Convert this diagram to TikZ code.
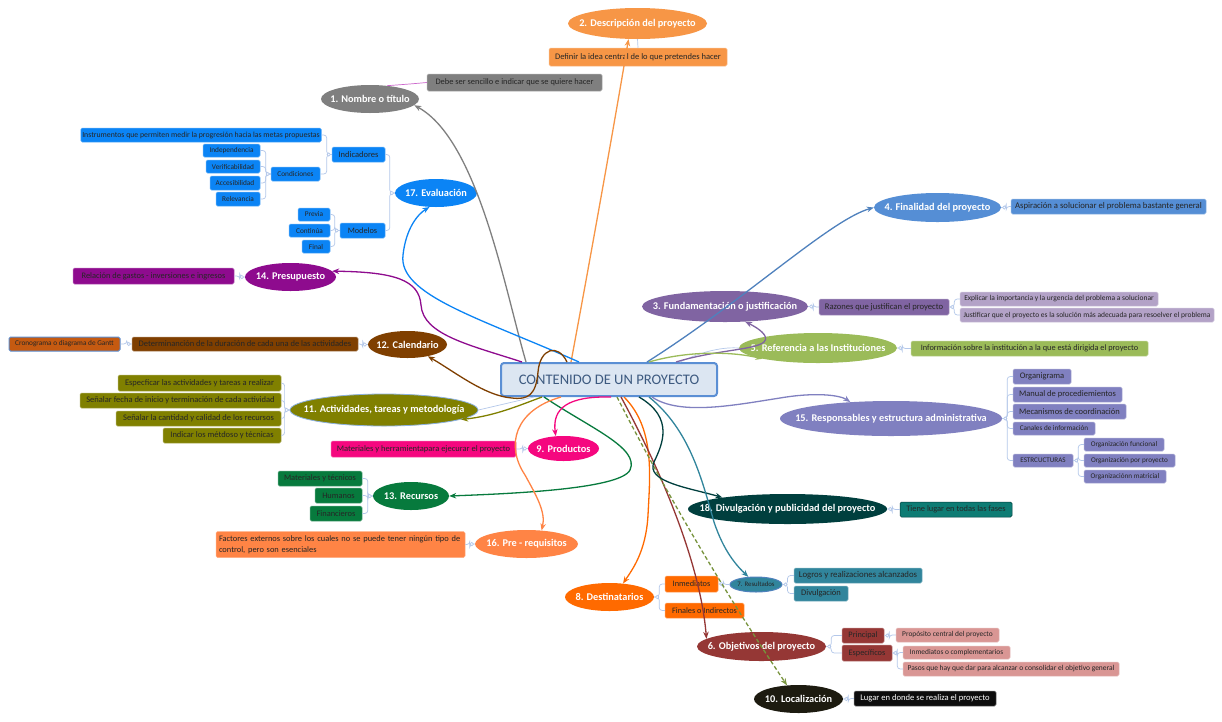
\documentclass[tikz,border=0pt]{standalone}
\usepackage{fontspec}
\setmainfont{Carlito}
\usetikzlibrary{arrows.meta,shapes.geometric}
\definecolor{cGray}{HTML}{7F7F7F}
\definecolor{cOrgA}{HTML}{F79646}
\definecolor{cPurA}{HTML}{8064A2}
\definecolor{cPurL}{HTML}{B3A2C7}
\definecolor{cBluA}{HTML}{558ED5}
\definecolor{cBluLine}{HTML}{4F81BD}
\definecolor{cGrnA}{HTML}{9BBB59}
\definecolor{cRed}{HTML}{953735}
\definecolor{cRedL}{HTML}{D99694}
\definecolor{cTeal}{HTML}{31859C}
\definecolor{cOrgB}{HTML}{FF6A00}
\definecolor{cPink}{HTML}{F5077F}
\definecolor{cBlack}{HTML}{1D1B10}
\definecolor{cBlkBox}{HTML}{0D0D0D}
\definecolor{cOlive}{HTML}{808000}
\definecolor{cBrown}{HTML}{7F3F00}
\definecolor{cCron}{HTML}{C55A11}
\definecolor{cGreen}{HTML}{077A3D}
\definecolor{cPurB}{HTML}{8E0B8E}
\definecolor{cLav}{HTML}{8080C0}
\definecolor{cCoral}{HTML}{FF8445}
\definecolor{cBluB}{HTML}{0B84F5}
\definecolor{cDTeal}{HTML}{003F3E}
\definecolor{cTealBox}{HTML}{0E7C74}
\definecolor{cDash}{HTML}{77933C}
\definecolor{cLink}{HTML}{B4C8EA}
\definecolor{cPinkThin}{HTML}{CC66CC}
\definecolor{cCtrB}{HTML}{5B8FD4}
\definecolor{cCtrF}{HTML}{DCE6F2}
\definecolor{cCtrT}{HTML}{3D5A80}
\newcommand\fsz[1]{\fontsize{#1}{#1}\selectfont}
\newcommand\EL[8][]{\node[ell,fill=#3,minimum width={#5-#4},minimum height={#7-#6},#1] (#2) at ({(#4+#5)/2},{(#6+#7)/2}) {\makebox[0pt]{#8}};}
\newcommand\BX[9][]{\node[bx,fill=#3,draw=#3!65!white,minimum width={#5-#4},minimum height={#7-#6},font=\fsz{#9},#1] (#2) at ({(#4+#5)/2},{(#6+#7)/2}) {#8};}
\newcommand\brL[2]{\draw[lk,rounded corners=3pt] (#1.west) -- ++(-5,0) |- (#2.east);}
\newcommand\brR[2]{\draw[lk,rounded corners=3pt] (#1.east) -- ++(5,0) |- (#2.west);}
\newcommand\mkL[1]{\draw[lk,fill=white] ([xshift=-3pt]#1.west) circle[radius=1.7pt];}
\newcommand\mkR[1]{\draw[lk,fill=white] ([xshift=3pt]#1.east) circle[radius=1.7pt];}
\begin{document}
\begin{tikzpicture}[x=1pt,y=-1pt,
  ell/.style={ellipse,inner sep=0pt,text=white,font=\fsz{10.3}\bfseries},
  bx/.style={rectangle,rounded corners=1.5pt,inner xsep=1.5pt,inner ysep=0pt,text=black!85,line width=0.5pt},
  lk/.style={draw=cLink,line width=0.7pt},
  cn/.style={line width=1.3pt,-{Stealth[length=7pt,width=5.5pt]}}]
\fill[white] (0,0) rectangle (1222,721);
\useasboundingbox (0,0) rectangle (1222,721);
% central
\node[draw=cCtrB,line width=2pt,fill=cCtrF,rounded corners=3pt,minimum width=216pt,minimum height=33pt,text=cCtrT,font=\fsz{14.6}] (ctr) at (609,379.5) {CONTENIDO DE UN PROYECTO};
% main topics
\EL{n1}{cGray}{321}{419}{85}{113}{1. Nombre o título}
\EL{n2}{cOrgA}{568}{707}{8}{39}{2. Descripción del proyecto}
\EL{n3}{cPurA}{642}{808}{291}{322}{3. Fundamentación o justificación}
\EL{n4}{cBluA}{874}{1001}{193}{222}{4. Finalidad del proyecto}
\EL{n5}{cGrnA}{739}{897}{333}{363}{5. Referencia a las Instituciones}
\EL{n6}{cRed}{697}{826}{632}{661}{6. Objetivos del proyecto}
\EL[text=black!85,font=\fsz{6.8},draw=cBluLine,line width=1pt]{n7}{cTeal}{730}{782}{577}{592}{7. Resultados}
\EL{n8}{cOrgB}{565}{654}{583}{611}{8. Destinatarios}
\EL{n9}{cPink}{528}{599}{436}{461}{9. Productos}
\EL{n10}{cBlack}{754}{843}{685}{713}{10. Localización}
\EL[draw=cCtrB!70!white,line width=0.8pt]{n11}{cOlive}{290}{478}{394}{426}{11. Actividades, tareas y metodología}
\EL{n12}{cBrown}{368}{447}{331}{358}{12. Calendario}
\EL{n13}{cGreen}{373}{449}{482}{510}{13. Recursos}
\EL{n14}{cPurB}{245}{336}{263}{291}{14. Presupuesto}
\EL{n15}{cLav}{780}{1002}{401}{436}{15. Responsables y estructura administrativa}
\EL{n16}{cCoral}{475}{578}{530}{558}{16. Pre - requisitos}
\EL{n17}{cBluB}{395}{477}{179}{207}{17. Evaluación}
\EL{n18}{cDTeal}{688}{887}{494}{524}{18. Divulgación y publicidad del proyecto}
% boxes right / top
\BX{b1}{cGray}{427}{602}{74}{91}{Debe ser sencillo e indicar que se quiere hacer}{8.4}
\BX{b2}{cOrgA}{549}{727}{48}{66}{Definir la idea central de lo que pretendes hacer}{8.5}
\BX{b4}{cBluA}{1011}{1206}{199}{214}{Aspiración a solucionar el problema bastante general}{8.7}
\BX{b3}{cPurA}{819}{949}{299}{315}{Razones que justifican el proyecto}{8.6}
\BX{b3a}{cPurL}{960}{1158}{292}{306}{Explicar la importancia y la urgencia del problema a solucionar}{7.5}
\BX{b3b}{cPurL}{960}{1214}{308}{322}{Justificar que el proyecto es la solución más adecuada para resoelver el problema}{7.5}
\BX{b5}{cGrnA}{911}{1148}{341}{356}{Información sobre la institución a la que está dirigida el proyecto}{8.3}
\BX{o1}{cLav}{1013}{1071}{369}{384}{Organigrama}{8.5}
\BX{o2}{cLav}{1013}{1122}{387}{402}{Manual de procediemientos}{8.5}
\BX{o3}{cLav}{1013}{1126}{404}{419}{Mecanismos de coordinación}{8.5}
\BX{o4}{cLav}{1013}{1095}{422}{435}{Canales de información}{7.2}
\BX{o5}{cLav}{1013}{1073}{454}{467}{ESTRCUCTURAS}{7.1}
\BX{p1}{cLav}{1084}{1164}{438}{451}{Organización funcional}{7.2}
\BX{p2}{cLav}{1084}{1175}{454}{467}{Organización por proyecto}{7.2}
\BX{p3}{cLav}{1084}{1166}{470}{483}{Organizaciónn matricial}{7.2}
\BX[draw=cDTeal]{b18}{cTealBox}{900}{1012}{502}{517}{Tiene lugar en todas las fases}{8.4}
\BX{d1}{cOrgB}{665}{718}{576}{592}{Inmediatos}{8.3}
\BX{d2}{cOrgB}{665}{744}{603}{618}{Finales o Indirectos}{8.3}
\BX{g1}{cTeal}{794}{922}{568}{583}{Logros y realizaciones alcanzados}{8.8}
\BX{g2}{cTeal}{794}{848}{586}{601}{Divulgación}{8.5}
\BX{q1}{cRed}{842}{884}{628}{643}{Principal}{8.3}
\BX{q2}{cRed}{842}{892}{645}{661}{Específicos}{8.3}
\BX{q1a}{cRedL}{896}{999}{628}{642}{Propósito central del proyecto}{7.4}
\BX{q2a}{cRedL}{903}{1010}{646}{659}{Inmediatos o complementarios}{7.4}
\BX{q2b}{cRedL}{903}{1119}{662}{676}{Pasos que hay que dar para alcanzar o consolidar el objetivo general}{7.5}
\BX[text=white,draw=black!55]{b10}{cBlkBox}{854}{996}{691}{706}{Lugar en donde se realiza el proyecto}{8.6}
% boxes left
\BX{e1}{cBluB}{82}{320}{128}{142}{Instrumentos que permiten medir la progresión hacia las metas propuestas}{7.8}
\BX{e2}{cBluB}{203}{260}{144}{157}{Independencia}{7.3}
\BX{e3}{cBluB}{206}{260}{160}{173}{Verificabilidad}{7.3}
\BX{e4}{cBluB}{210}{260}{176}{190}{Accesibilidad}{7.3}
\BX{e5}{cBluB}{216}{260}{192}{206}{Relevancia}{7.3}
\BX{e6}{cBluB}{271}{320}{167}{181}{Condiciones}{7.3}
\BX{e7}{cBluB}{332}{385}{147}{162}{Indicadores}{8.5}
\BX{e8}{cBluB}{298}{330}{208}{221}{Previa}{7.3}
\BX{e9}{cBluB}{289}{330}{224}{237}{Continúa}{7.3}
\BX{e10}{cBluB}{302}{330}{240}{253}{Final}{7.3}
\BX{e11}{cBluB}{340}{385}{223}{238}{Modelos}{8.3}
\BX{b14}{cPurB}{73}{234}{268}{284}{Relación de gastos - inversiones e ingresos}{8.4}
\BX{b12}{cBrown}{132}{358}{337}{351}{Determinanción de la duración de cada una de las actividades}{8.5}
\BX[draw=cCtrB,line width=1pt]{b12g}{cCron}{9}{120}{337}{351}{Cronograma o diagrama de Gantt}{7.3}
\BX{a1}{cOlive}{118}{281}{375}{391}{Especficar las actividades y tareas a realizar}{8.5}
\BX{a2}{cOlive}{80}{281}{393}{408}{Señalar fecha de inicio y terminación de cada actividad}{8.5}
\BX{a3}{cOlive}{116}{281}{411}{426}{Señalar la cantidad y calidad de los recursos}{8.5}
\BX{a4}{cOlive}{163}{281}{428}{443}{Indicar los métdoso y técnicas}{8.5}
\BX{b9}{cPink}{331}{516}{441}{457}{Materiales y herramientapara ejecurar el proyecto}{8.5}
\BX{r1}{cGreen}{278}{362}{471}{486}{Materiales y técnicos}{8.4}
\BX{r2}{cGreen}{315}{362}{488}{503}{Humanos}{8.4}
\BX{r3}{cGreen}{310}{362}{506}{521}{Financieros}{8.4}
\node[bx,fill=cCoral,draw=cCoral!65!white,text width=243pt,inner xsep=3pt,minimum height=26pt,align=left,font=\fontsize{8.4}{10.5}\selectfont] (b16) at (340.5,544.5) {Factores externos sobre los cuales no se puede tener ningún tipo de\\control, pero son esenciales};
% thin links
\draw[draw=cPinkThin,line width=0.7pt] (n1.38) .. controls (410,84) .. (b1.west);
\draw[lk] (n2.south) -- (b2.north);
\brR{n4}{b4}\mkR{n4}
\brR{n3}{b3}\mkR{n3}
\brR{b3}{b3a}\brR{b3}{b3b}\mkR{b3}
\brR{n5}{b5}\mkR{n5}
\brR{n15}{o1}\brR{n15}{o2}\brR{n15}{o3}\brR{n15}{o4}\brR{n15}{o5}\mkR{n15}
\brR{o5}{p1}\brR{o5}{p2}\brR{o5}{p3}\mkR{o5}
\brR{n18}{b18}\mkR{n18}
\brR{n8}{d1}\brR{n8}{d2}\mkR{n8}
\brR{d1}{n7}\mkR{d1}
\brR{n7}{g1}\brR{n7}{g2}\mkR{n7}
\brR{n6}{q1}\brR{n6}{q2}\mkR{n6}
\brR{q1}{q1a}\mkR{q1}
\brR{q2}{q2a}\brR{q2}{q2b}\mkR{q2}
\brR{n10}{b10}\mkR{n10}
\brL{n17}{e7}\brL{n17}{e11}\mkL{n17}
\brL{e7}{e1}\brL{e7}{e6}\mkL{e7}
\brL{e6}{e2}\brL{e6}{e3}\brL{e6}{e4}\brL{e6}{e5}\mkL{e6}
\brL{e11}{e8}\brL{e11}{e9}\brL{e11}{e10}\mkL{e11}
\brL{n14}{b14}\mkL{n14}
\brL{n12}{b12}\mkL{n12}
\brL{b12}{b12g}\mkL{b12}
\brL{n11}{a1}\brL{n11}{a2}\brL{n11}{a3}\brL{n11}{a4}\mkL{n11}
\brL{n9}{b9}\mkL{n9}
\brL{n13}{r1}\brL{n13}{r2}\brL{n13}{r3}\mkL{n13}
\brL{n16}{b16}\mkL{n16}
\draw[lk] (n11.east) -- ([xshift=34pt]ctr.south west);
\draw[lk] ([xshift=180pt]ctr.north west) .. controls (705,350) and (725,347) .. (n5.west);
% main connectors
\draw[cn,color=cGray] ([xshift=26pt]ctr.north west) .. controls (505,290) and (478,140) .. (n1.-8);
\draw[cn,color=cOrgA] ([xshift=71pt]ctr.north west) .. controls (590,260) and (615,120) .. (n2.-120);
\draw[cn,color=cBluB] ([xshift=79pt]ctr.north west) .. controls (480,318) and (398,295) .. (403,255) .. controls (406,228) and (418,214) .. (n17.-115);
\draw[cn,color=cPurB] ([xshift=22pt]ctr.north west) .. controls (470,345) and (423,335) .. (421,305) .. controls (419,280) and (395,272) .. (n14.8);
\draw[cn,color=cBrown] ([xshift=67pt]ctr.north west) .. controls (558,343) and (540,348) .. (538,372) .. controls (536,395) and (528,400) .. (512,398) .. controls (485,396) and (455,372) .. (n12.-30);
\draw[cn,color=cOlive] ([xshift=42pt]ctr.south west) .. controls (520,405) and (495,416) .. (n11.-7);
\draw[cn,color=cGreen] ([xshift=44pt]ctr.south west) .. controls (590,428) and (640,448) .. (630,470) .. controls (620,490) and (500,494) .. (n13.east);
\draw[cn,color=cPink] ([xshift=111pt]ctr.south west) .. controls (568,396) and (552,408) .. (n9.122);
\draw[cn,color=cCoral] ([xshift=61pt]ctr.south west) .. controls (515,410) and (505,445) .. (525,475) .. controls (536,495) and (546,512) .. (n16.42);
\draw[cn,color=cOrgB] ([xshift=124pt]ctr.south west) .. controls (655,428) and (650,475) .. (648,515) .. controls (646,552) and (632,570) .. (n8.45);
\draw[cn,color=cRed] ([xshift=121pt]ctr.south west) .. controls (658,465) and (700,560) .. (n6.172);
\draw[cn,color=cDash,dash pattern=on 4pt off 2.5pt] ([xshift=117pt]ctr.south west) .. controls (680,520) and (740,615) .. (n10.130);
\draw[cn,color=cDTeal] ([xshift=139pt]ctr.south west) .. controls (675,418) and (662,445) .. (654,462) .. controls (645,482) and (690,488) .. (n18.170);
\draw[cn,color=cTeal] ([xshift=149pt]ctr.south west) .. controls (690,430) and (702,480) .. (714,522) .. controls (724,552) and (737,566) .. (n7.135);
\draw[cn,color=cLav] ([xshift=152pt]ctr.south west) .. controls (680,416) and (735,405) .. (780,398) .. controls (815,392) and (840,395) .. (n15.158);
\draw[cn,color=cPurA] ([xshift=176pt]ctr.north west) .. controls (715,350) and (755,350) .. (764,342) .. controls (770,336) and (758,328) .. (n3.-37);
\draw[cn,color=cBluLine] ([xshift=147pt]ctr.north west) .. controls (745,300) and (830,220) .. (n4.west);
\draw[cn,color=cGrnA] ([xshift=149pt]ctr.north west) .. controls (690,350) and (735,352) .. (n5.191);
\end{tikzpicture}
\end{document}
